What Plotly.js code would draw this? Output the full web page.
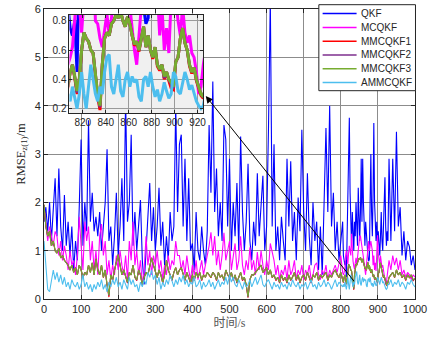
<!DOCTYPE html>
<html><head><meta charset="utf-8">
<script src="https://cdn.plot.ly/plotly-3.0.1.min.js"></script>
<style>html,body{margin:0;padding:0;background:#fff}#chart{width:430px;height:338px}</style>
</head><body><div id="chart"></div>
<script>
// ---- series names and colours ----
const seriesNames = ["QKF", "MCQKF", "MMCQKF1", "MMCQKF2", "MMCQKF3", "AMMCQKF"];
const seriesColors = ["#0000ff", "#ff00ff", "#ff0000", "#7e2f8e", "#77ac30", "#4dbeee"];

// ---- time samples (s): 0..805 every 5 s, 807..927 every 2 s (zoom window), 930..1000 every 5 s ----
function span(a, b, s) { const r = []; for (let t = a; t <= b; t += s) r.push(t); return r; }
const timeS = span(0, 805, 5).concat(span(807, 927, 2), span(930, 1000, 5));

// ---- RMSE values (m) ----
const QKF = [
 1.6,1.9,1.4,2.0,1.2,1.8,2.5,1.3,2.7,1.5,
 1.0,2.15,1.1,1.6,0.9,1.5,0.6,1.2,0.8,1.9,
 3.3,1.1,2.0,1.4,3.7,1.6,2.2,1.4,1.7,1.3,
 1.8,1.0,1.6,2.0,3.1,1.2,1.5,0.7,1.3,2.2,
 0.9,1.5,2.5,1.2,4.2,1.6,2.0,3.4,1.1,1.8,
 1.0,1.6,2.05,0.8,0.3,1.0,1.6,2.4,1.2,1.9,
 1.0,1.5,2.3,1.1,1.6,0.7,1.3,0.8,1.8,1.2,
 1.5,4.0,1.8,3.2,3.4,1.5,2.9,1.2,2.5,1.0,
 1.15,0.6,1.8,1.0,0.8,1.5,1.0,0.7,1.4,3.6,
 2.2,4.5,1.8,2.7,1.3,2.0,1.2,3.6,3.3,1.5,
 2.9,1.0,2.0,1.3,2.4,1.0,3.36,1.8,1.0,1.6,
 2.8,1.2,0.8,1.6,1.1,2.6,1.3,2.0,2.55,1.0,
 1.5,3.5,6.2,1.5,3.2,1.0,1.5,0.8,1.7,1.2,
 0.8,2.9,1.5,2.85,1.2,1.8,0.8,2.1,1.4,3.5,
 1.8,1.0,2.6,1.3,0.7,2.0,1.2,1.6,0.6,1.5,
 0.5,2.0,3.54,1.8,4.0,1.5,2.2,1.0,1.6,0.8,
 1.2,1.6,
 // 807..927 step 2
 0.9,0.75,0.7,0.8,0.45,1.3,2.0,3.0,3.75,2.2,
 1.5,1.1,1.8,1.2,1.0,1.6,1.3,2.0,1.4,1.1,
 2.3,1.5,1.2,1.8,2.9,1.6,2.9,2.0,1.5,1.1,
 1.6,1.3,1.0,0.9,0.78,0.82,2.0,3.0,1.8,1.3,
 2.2,3.64,2.0,1.5,1.2,1.6,1.1,1.4,1.0,0.9,
 1.3,1.8,1.2,1.0,1.5,2.0,2.52,1.5,1.1,1.4,
 1.2,
 // 930..1000
 2.9,1.2,2.9,1.4,3.46,1.5,1.9,0.9,1.4,0.8,1.2,1.08,0.7,0.9,0.6
];
const MCQKF = [
 1.9,1.5,1.2,1.5,1.3,1.1,1.4,1.3,0.9,1.2,
 0.8,1.1,0.9,0.6,1.0,0.7,0.8,0.5,0.9,1.7,
 1.1,0.6,1.6,1.2,1.5,0.8,1.2,0.6,1.0,0.5,
 1.3,1.55,0.9,1.2,0.5,0.8,0.4,0.7,0.5,0.9,
 0.6,1.0,0.7,0.5,0.9,0.4,1.2,0.8,1.6,0.7,
 1.0,0.5,0.8,0.3,0.6,1.3,0.7,1.0,0.5,0.9,
 0.7,1.0,0.6,0.8,0.4,0.7,0.5,0.9,0.6,0.8,
 0.7,1.2,0.9,0.9,0.6,0.8,0.5,0.9,0.6,0.4,
 0.7,0.5,0.8,0.4,0.6,0.8,0.5,0.7,0.9,1.1,
 1.38,0.9,1.3,0.7,1.0,0.6,0.9,1.37,0.8,1.0,
 1.2,0.6,0.9,1.15,0.6,0.8,1.3,0.7,0.5,0.8,
 0.6,1.07,0.6,0.8,0.5,0.97,0.6,1.0,0.7,0.5,
 0.8,0.6,1.15,1.0,0.8,0.5,0.7,0.4,0.6,0.5,
 0.7,0.4,0.8,0.5,0.6,0.8,0.4,0.6,0.5,0.7,
 0.4,0.6,0.5,0.7,0.4,0.5,0.7,0.75,0.5,0.4,
 0.6,0.5,0.7,0.4,0.6,0.5,0.6,0.7,0.55,0.7,
 0.9,0.55,
 // 807..927 step 2
 0.5,0.55,0.62,0.9,1.0,0.9,0.72,0.95,1.1,1.0,
 0.9,1.35,0.8,0.78,0.68,0.62,0.75,0.85,0.7,0.9,
 1.0,1.1,1.3,1.3,1.2,1.1,1.0,0.9,0.75,0.6,
 0.5,0.7,0.95,1.1,1.2,1.0,1.1,1.2,1.1,1.0,
 0.7,0.9,0.6,0.75,0.58,0.9,1.32,0.95,0.8,0.7,
 0.9,0.72,0.65,0.7,0.58,0.55,0.45,0.3,0.35,0.5,
 0.6,
 // 930..1000
 0.8,0.6,0.9,0.7,0.85,0.6,0.8,0.5,0.6,0.45,0.55,0.5,0.4,0.5,0.45
];
const MMCQKF1 = [
 1.95,1.5,1.3,1.4,1.1,1.2,1.0,0.95,1.05,0.85,
 0.9,0.8,0.75,0.7,0.6,0.7,0.55,0.65,0.5,0.7,
 0.6,0.44,0.55,0.5,0.7,0.55,0.75,0.5,0.83,0.6,
 0.5,0.7,0.44,0.6,0.28,0.04,0.5,0.38,0.6,0.75,
 0.92,0.7,0.5,0.6,0.44,0.33,0.55,0.5,0.7,0.45,
 0.38,0.6,0.5,0.28,0.45,0.55,0.5,0.65,0.85,0.7,
 0.55,0.44,0.6,0.5,0.33,0.5,0.8,0.6,0.5,0.38,
 0.55,0.65,0.5,0.6,0.65,0.5,0.38,0.55,0.45,0.33,
 0.5,0.38,0.55,0.45,0.55,0.38,0.5,0.45,0.55,0.5,
 0.44,0.55,0.5,0.38,0.55,0.45,0.5,0.38,0.6,0.5,
 0.44,0.55,0.38,0.5,0.33,0.45,0.55,0.38,0.45,0.28,
 0.03,0.4,0.5,0.5,0.55,0.6,0.65,0.7,0.55,0.6,
 0.65,0.5,0.6,0.44,0.5,0.38,0.45,0.33,0.5,0.38,
 0.45,0.33,0.5,0.38,0.45,0.55,0.38,0.5,0.33,0.45,
 0.5,0.38,0.55,0.45,0.33,0.5,0.45,0.55,0.38,0.5,
 0.44,0.5,0.55,0.38,0.5,0.45,0.55,0.6,0.5,0.44,
 0.55,0.38,
 // 807..927 step 2
 0.34,0.45,0.5,0.41,0.3,0.4,0.6,0.72,0.68,0.66,
 0.6,0.58,0.44,0.28,0.19,0.5,0.68,0.72,0.7,0.78,
 0.8,0.84,0.82,0.86,0.8,0.76,0.83,0.78,0.7,0.63,
 0.66,0.59,0.68,0.76,0.62,0.7,0.6,0.54,0.62,0.49,
 0.46,0.5,0.4,0.45,0.39,0.34,0.33,0.52,0.55,0.68,
 0.75,0.65,0.6,0.49,0.44,0.48,0.39,0.34,0.29,0.27,
 0.35,
 // 930..1000
 0.44,0.5,0.55,0.44,0.6,0.5,0.55,0.44,0.5,0.38,0.5,0.44,0.5,0.38,0.42
];
const MMCQKF2 = [
 1.95,1.5,1.3,1.4,1.1,1.2,1.0,0.95,1.05,0.85,
 0.9,0.8,0.75,0.7,0.6,0.7,0.55,0.65,0.5,0.7,
 0.6,0.45,0.55,0.5,0.7,0.55,0.75,0.5,0.83,0.6,
 0.5,0.7,0.45,0.6,0.29,0.07,0.5,0.39,0.6,0.75,
 0.92,0.7,0.5,0.6,0.45,0.34,0.55,0.5,0.7,0.45,
 0.39,0.6,0.5,0.29,0.45,0.55,0.5,0.65,0.85,0.7,
 0.55,0.45,0.6,0.5,0.34,0.5,0.8,0.6,0.5,0.39,
 0.55,0.65,0.5,0.6,0.65,0.5,0.39,0.55,0.45,0.34,
 0.5,0.39,0.55,0.45,0.55,0.39,0.5,0.45,0.55,0.5,
 0.45,0.55,0.5,0.39,0.55,0.45,0.5,0.39,0.6,0.5,
 0.45,0.55,0.39,0.5,0.34,0.45,0.55,0.39,0.45,0.29,
 0.04,0.4,0.5,0.5,0.55,0.6,0.65,0.7,0.55,0.6,
 0.65,0.5,0.6,0.45,0.5,0.39,0.45,0.34,0.5,0.39,
 0.45,0.34,0.5,0.39,0.45,0.55,0.39,0.5,0.34,0.45,
 0.5,0.39,0.55,0.45,0.34,0.5,0.45,0.55,0.39,0.5,
 0.45,0.5,0.55,0.39,0.5,0.45,0.55,0.6,0.5,0.45,
 0.55,0.39,
 // 807..927 step 2
 0.35,0.45,0.5,0.42,0.31,0.4,0.6,0.72,0.68,0.66,
 0.6,0.58,0.45,0.29,0.21,0.5,0.68,0.72,0.7,0.78,
 0.8,0.84,0.82,0.86,0.8,0.76,0.83,0.78,0.7,0.64,
 0.66,0.6,0.68,0.76,0.62,0.7,0.6,0.55,0.62,0.5,
 0.47,0.5,0.41,0.45,0.4,0.37,0.34,0.52,0.55,0.68,
 0.75,0.65,0.6,0.5,0.45,0.48,0.4,0.35,0.3,0.28,
 0.35,
 // 930..1000
 0.45,0.5,0.55,0.45,0.6,0.5,0.55,0.45,0.5,0.39,0.5,0.45,0.5,0.39,0.42
];
const MMCQKF3 = [
 1.95,1.5,1.3,1.4,1.1,1.2,1.0,0.95,1.05,0.85,
 0.9,0.8,0.75,0.7,0.6,0.7,0.55,0.65,0.5,0.7,
 0.6,0.45,0.55,0.5,0.7,0.55,0.75,0.5,0.83,0.6,
 0.5,0.7,0.45,0.6,0.3,0.08,0.5,0.4,0.6,0.75,
 0.92,0.7,0.5,0.6,0.45,0.35,0.55,0.5,0.7,0.45,
 0.4,0.6,0.5,0.3,0.45,0.55,0.5,0.65,0.85,0.7,
 0.55,0.45,0.6,0.5,0.35,0.5,0.8,0.6,0.5,0.4,
 0.55,0.65,0.5,0.6,0.65,0.5,0.4,0.55,0.45,0.35,
 0.5,0.4,0.55,0.45,0.55,0.4,0.5,0.45,0.55,0.5,
 0.45,0.55,0.5,0.4,0.55,0.45,0.5,0.4,0.6,0.5,
 0.45,0.55,0.4,0.5,0.35,0.45,0.55,0.4,0.45,0.3,
 0.05,0.4,0.5,0.5,0.55,0.6,0.65,0.7,0.55,0.6,
 0.65,0.5,0.6,0.45,0.5,0.4,0.45,0.35,0.5,0.4,
 0.45,0.35,0.5,0.4,0.45,0.55,0.4,0.5,0.35,0.45,
 0.5,0.4,0.55,0.45,0.35,0.5,0.45,0.55,0.4,0.5,
 0.45,0.5,0.55,0.4,0.5,0.45,0.55,0.6,0.5,0.45,
 0.55,0.4,
 // 807..927 step 2
 0.35,0.45,0.5,0.42,0.32,0.4,0.6,0.72,0.68,0.66,
 0.6,0.58,0.45,0.3,0.22,0.5,0.68,0.72,0.7,0.78,
 0.8,0.84,0.82,0.86,0.8,0.76,0.83,0.78,0.7,0.64,
 0.66,0.6,0.68,0.76,0.62,0.7,0.6,0.55,0.62,0.5,
 0.47,0.5,0.42,0.45,0.4,0.38,0.35,0.52,0.55,0.68,
 0.75,0.65,0.6,0.5,0.45,0.48,0.4,0.35,0.3,0.28,
 0.35,
 // 930..1000
 0.45,0.5,0.55,0.45,0.6,0.5,0.55,0.45,0.5,0.4,0.5,0.45,0.5,0.4,0.42
];
const AMMCQKF = [
 1.2,0.6,0.2,0.15,0.35,0.6,0.4,0.55,0.35,0.5,
 0.3,0.45,0.25,0.35,0.2,0.4,0.3,0.25,0.35,0.2,
 0.3,0.5,0.25,0.35,0.2,0.3,0.15,0.3,0.2,0.35,
 0.25,0.4,0.2,0.3,0.15,0.35,0.25,0.4,0.3,0.45,
 0.25,0.35,0.2,0.4,0.3,0.2,0.45,0.3,0.4,0.25,
 0.3,0.15,0.35,0.25,0.4,0.3,0.55,0.45,0.6,0.4,
 0.5,0.3,0.45,0.2,0.35,0.25,0.4,0.3,0.5,0.35,
 0.25,0.4,0.3,0.45,0.35,0.5,0.3,0.4,0.25,0.35,
 0.3,0.45,0.25,0.3,0.4,0.2,0.35,0.25,0.3,0.4,
 0.25,0.35,0.2,0.3,0.4,0.25,0.35,0.3,0.45,0.3,
 0.5,0.35,0.45,0.3,0.25,0.4,0.3,0.2,0.35,0.25,
 0.3,0.4,0.25,0.35,0.45,0.3,0.4,0.5,0.3,0.25,
 0.35,0.4,0.3,0.2,0.35,0.25,0.3,0.2,0.35,0.25,
 0.3,0.2,0.35,0.25,0.4,0.3,0.25,0.35,0.2,0.3,
 0.25,0.35,0.2,0.3,0.4,0.25,0.3,0.2,0.35,0.25,
 0.3,0.4,0.25,0.35,0.3,0.2,0.3,0.4,0.25,0.35,
 0.3,0.25,
 // 807..927 step 2
 0.3,0.25,0.35,0.28,0.2,0.3,0.45,0.3,0.2,0.35,
 0.5,0.4,0.3,0.25,0.35,0.3,0.45,0.55,0.57,0.35,
 0.3,0.4,0.5,0.32,0.28,0.4,0.45,0.35,0.42,0.38,
 0.4,0.28,0.25,0.4,0.42,0.35,0.45,0.35,0.28,0.33,
 0.25,0.3,0.38,0.32,0.27,0.3,0.45,0.42,0.32,0.3,
 0.38,0.45,0.4,0.33,0.36,0.3,0.25,0.22,0.2,0.22,
 0.3,
 // 930..1000
 0.3,0.4,0.25,0.35,0.3,0.4,0.25,0.35,0.3,0.2,0.35,0.3,0.4,0.3,0.25
];

const seriesValues = [QKF, MCQKF, MMCQKF1, MMCQKF2, MMCQKF3, AMMCQKF];
seriesValues.forEach((v, i) => {
  if (v.length !== timeS.length) throw new Error(seriesNames[i] + ' has ' + v.length + ' values, expected ' + timeS.length);
});

// ---- axis ticks ----
const mainXTicks = [0,100,200,300,400,500,600,700,800,900,1000];
const mainYTicks = [0,1,2,3,4,5,6];
const zoomXTicks = [820,840,860,880,900,920];
const zoomYTicks = [0.2,0.4,0.6,0.8];

// ---- geometry (pixels of the 430x338 picture) ----
const W = 430, H = 338;
const plotL = 43.5, plotR = 415, plotT = 9, plotB = 299;
const px2paperX = p => (p - plotL) / (plotR - plotL);
const px2paperY = p => (plotB - p) / (plotB - plotT);

const tickFont = {family: 'Liberation Sans, Arial, sans-serif', size: 11, color: '#262626'};

const traces = [];
seriesValues.forEach((v, i) => {
  traces.push({x: timeS, y: v, name: seriesNames[i], type: 'scatter', mode: 'lines',
    line: {color: seriesColors[i], width: 1.1}, xaxis: 'x', yaxis: 'y', hoverinfo: 'skip'});
});
seriesValues.forEach((v, i) => {
  traces.push({x: timeS, y: v, name: seriesNames[i], type: 'scatter', mode: 'lines',
    line: {color: seriesColors[i], width: 3}, xaxis: 'x2', yaxis: 'y2', hoverinfo: 'skip', showlegend: false});
});

const zoomRangeX = [808.4, 925];
const zoomRangeY = [0.17, 0.84];

const shapes = [
  {type: 'rect', xref: 'x2', yref: 'y2', x0: zoomRangeX[0], x1: zoomRangeX[1], y0: zoomRangeY[0], y1: zoomRangeY[1],
   fillcolor: '#f0f0f0', line: {width: 0}, layer: 'below'}
];
const annotations = [
  {xref: 'x', yref: 'y', axref: 'x', ayref: 'y', x: 436, y: 4.2, ax: 838.6, ay: 0.34,
   showarrow: true, arrowhead: 2, arrowsize: 1.4, arrowwidth: 1, arrowcolor: '#000', text: ''}
];

// manual legend (box, line samples, labels)
const legBox = {x0: 318.7, x1: 415.5, y0: 4.7, y1: 90.7};
shapes.push({type: 'rect', xref: 'paper', yref: 'paper',
  x0: px2paperX(legBox.x0), x1: px2paperX(legBox.x1), y0: px2paperY(legBox.y1), y1: px2paperY(legBox.y0),
  fillcolor: '#ffffff', line: {color: '#262626', width: 1}, layer: 'above'});
const legRow0 = 13.6, legRowGap = 13.8;
seriesNames.forEach((n, i) => {
  const py = legRow0 + i * legRowGap;
  shapes.push({type: 'line', xref: 'paper', yref: 'paper', x0: px2paperX(322.5), x1: px2paperX(356.5),
    y0: px2paperY(py), y1: px2paperY(py), line: {color: seriesColors[i], width: 1.5}, layer: 'above'});
  annotations.push({xref: 'paper', yref: 'paper', x: px2paperX(358.5), y: px2paperY(py), xanchor: 'left', yanchor: 'middle',
    text: n, showarrow: false, font: {family: 'Liberation Sans, Arial, sans-serif', size: 10, color: '#262626'}});
});

const axisCommon = {showline: true, linecolor: '#262626', linewidth: 1, mirror: 'allticks', ticks: 'inside',
  tickcolor: '#262626', zeroline: false, showgrid: true, fixedrange: true};

const layout = {
  width: W, height: H,
  margin: {l: plotL, r: W - plotR, t: plotT, b: H - plotB, pad: 0},
  paper_bgcolor: '#ffffff', plot_bgcolor: '#ffffff',
  showlegend: false,
  xaxis: Object.assign({}, axisCommon, {range: [0, 1000], tickvals: mainXTicks, ticklen: 4, gridcolor: '#8c8c8c',
    tickfont: tickFont, anchor: 'y',
    title: {text: '时间/s', font: {family: 'Liberation Serif, Noto Sans CJK SC, serif', size: 12, color: '#555555'}, standoff: 4}}),
  yaxis: Object.assign({}, axisCommon, {range: [0, 6], tickvals: mainYTicks, ticklen: 4, gridcolor: '#8c8c8c',
    tickfont: tickFont, anchor: 'x',
    title: {text: 'RMSE<sub>z(1)</sub>/m', font: {family: 'Liberation Serif, Times New Roman, serif', size: 12.5, color: '#262626'}, standoff: 6}}),
  xaxis2: Object.assign({}, axisCommon, {domain: [px2paperX(69), px2paperX(203)], anchor: 'y2', range: zoomRangeX,
    tickvals: zoomXTicks, ticklen: 3, gridcolor: '#9a9a9a', tickfont: {family: tickFont.family, size: 10, color: '#262626'}}),
  yaxis2: Object.assign({}, axisCommon, {domain: [px2paperY(113), px2paperY(15)], anchor: 'x2', range: zoomRangeY,
    tickvals: zoomYTicks, ticklen: 3, gridcolor: '#9a9a9a', tickfont: {family: tickFont.family, size: 10, color: '#262626'}}),
  shapes: shapes,
  annotations: annotations
};

Plotly.newPlot('chart', traces, layout, {staticPlot: true, displayModeBar: false});
</script>
</body></html>
